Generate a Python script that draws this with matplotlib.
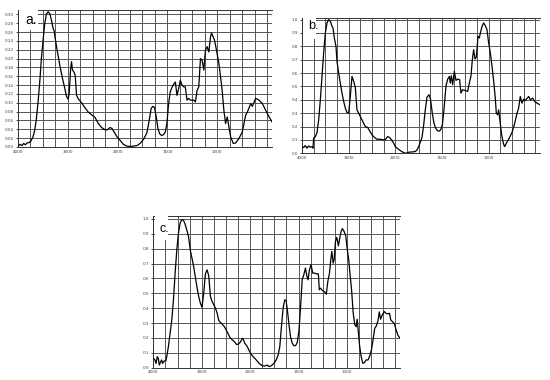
import numpy as np
import matplotlib.pyplot as plt
from matplotlib.patches import Rectangle

# panel a
wn_a = [4000, 3953, 3919, 3886, 3852, 3819, 3778, 3738, 3698, 3664, 3630, 3597, 3563, 3530,
        3496, 3462, 3429, 3395, 3362, 3328, 3294, 3274, 3247, 3214, 3160, 3106, 3059, 3026,
        2992, 2972, 2945, 2925, 2905, 2878, 2851, 2824, 2784, 2723, 2656, 2589, 2522, 2454,
        2387, 2320, 2253, 2206, 2152, 2112, 2071, 2017, 1975, 1942, 1908, 1874, 1841, 1807,
        1774, 1740, 1706, 1683, 1663, 1646, 1629, 1612, 1595, 1578, 1558, 1538, 1521, 1505,
        1488, 1471, 1454, 1437, 1420, 1404, 1387, 1370, 1353, 1336, 1320, 1303, 1286, 1269,
        1235, 1219, 1202, 1185, 1168, 1151, 1134, 1118, 1101, 1084, 1067, 1057, 1040, 1027,
        1007, 983, 950, 933, 916, 899, 882, 865, 839, 815, 782, 748, 714, 697, 664, 647,
        614, 580, 546, 513, 479, 450]
ab_a = [0.002, 0.006, 0.003, 0.008, 0.005, 0.009, 0.010, 0.014, 0.023, 0.038, 0.064, 0.102,
        0.147, 0.200, 0.242, 0.280, 0.301, 0.306, 0.302, 0.287, 0.268, 0.263, 0.242, 0.219,
        0.185, 0.155, 0.132, 0.115, 0.108, 0.121, 0.174, 0.193, 0.174, 0.170, 0.162, 0.117,
        0.108, 0.100, 0.089, 0.079, 0.073, 0.067, 0.053, 0.044, 0.039, 0.039, 0.044, 0.042,
        0.034, 0.024, 0.015, 0.006, 0.002, 0.001, 0.002, 0.003, 0.008, 0.017, 0.032, 0.060,
        0.087, 0.092, 0.089, 0.068, 0.042, 0.030, 0.026, 0.028, 0.034, 0.053, 0.098, 0.125,
        0.135, 0.142, 0.147, 0.117, 0.132, 0.151, 0.140, 0.136, 0.136, 0.106, 0.110, 0.106,
        0.106, 0.102, 0.128, 0.136, 0.200, 0.196, 0.174, 0.219, 0.227, 0.215, 0.249, 0.258,
        0.249, 0.242, 0.219, 0.189, 0.128, 0.083, 0.053, 0.068, 0.045, 0.023, 0.008, 0.009,
        0.019, 0.034, 0.072, 0.079, 0.098, 0.092, 0.110, 0.106, 0.098, 0.083, 0.068, 0.057]

# panel b
wn_b = [4000, 3964, 3929, 3893, 3857, 3822, 3786, 3764, 3750, 3714, 3679, 3643, 3607, 3572,
        3536, 3500, 3464, 3429, 3393, 3357, 3336, 3307, 3272, 3250, 3215, 3179, 3143, 3107,
        3072, 3036, 3000, 2965, 2929, 2893, 2858, 2822, 2786, 2750, 2715, 2679, 2643, 2593,
        2550, 2500, 2451, 2394, 2322, 2251, 2207, 2165, 2122, 2079, 2036, 2000, 1975, 1946,
        1911, 1889, 1857, 1821, 1786, 1768, 1750, 1732, 1714, 1696, 1679, 1661, 1639, 1622,
        1604, 1586, 1568, 1550, 1532, 1514, 1496, 1479, 1457, 1439, 1421, 1411, 1400, 1386,
        1368, 1350, 1332, 1311, 1297, 1279, 1250, 1225, 1207, 1189, 1175, 1161, 1146, 1132,
        1114, 1100, 1089, 1071, 1054, 1036, 1018, 1000, 982, 964, 946, 929, 918, 904, 893,
        879, 861, 843, 829, 811, 786, 750, 721, 696, 679, 661, 643, 625, 607, 571, 554, 529,
        507, 482, 450]
ab_b = [0.050, 0.043, 0.058, 0.038, 0.055, 0.045, 0.050, 0.038, 0.113, 0.125, 0.155, 0.250,
        0.400, 0.575, 0.750, 0.900, 0.975, 1.000, 0.988, 0.950, 0.938, 0.863, 0.800, 0.688,
        0.600, 0.525, 0.450, 0.388, 0.338, 0.305, 0.300, 0.425, 0.575, 0.538, 0.495, 0.325,
        0.300, 0.275, 0.250, 0.225, 0.200, 0.193, 0.168, 0.138, 0.120, 0.105, 0.105, 0.100,
        0.105, 0.125, 0.118, 0.100, 0.075, 0.050, 0.035, 0.020, 0.005, 0.000, 0.008, 0.010,
        0.013, 0.025, 0.050, 0.083, 0.120, 0.213, 0.325, 0.420, 0.438, 0.400, 0.300, 0.225,
        0.188, 0.170, 0.165, 0.175, 0.213, 0.325, 0.505, 0.555, 0.575, 0.525, 0.580, 0.513,
        0.613, 0.545, 0.555, 0.550, 0.450, 0.475, 0.470, 0.463, 0.525, 0.580, 0.700, 0.775,
        0.705, 0.720, 0.875, 0.863, 0.900, 0.950, 0.975, 0.955, 0.925, 0.825, 0.750, 0.650,
        0.538, 0.413, 0.300, 0.288, 0.325, 0.245, 0.138, 0.075, 0.050, 0.075, 0.105, 0.155,
        0.225, 0.300, 0.338, 0.425, 0.375, 0.405, 0.395, 0.425, 0.400, 0.413, 0.388, 0.375,
        0.363]

# panel c
wn_c = [4000, 3965, 3944, 3917, 3896, 3875, 3847, 3826, 3806, 3778, 3743, 3722, 3688, 3653,
        3618, 3584, 3549, 3514, 3480, 3445, 3410, 3375, 3341, 3306, 3271, 3237, 3202, 3167,
        3133, 3098, 3063, 3028, 2994, 2959, 2924, 2890, 2855, 2820, 2786, 2751, 2716, 2681,
        2647, 2598, 2543, 2501, 2459, 2418, 2369, 2321, 2279, 2237, 2196, 2161, 2140, 2112,
        2077, 2042, 2000, 1976, 1942, 1908, 1874, 1847, 1823, 1806, 1782, 1755, 1731, 1711,
        1694, 1677, 1660, 1643, 1629, 1616, 1599, 1582, 1565, 1548, 1531, 1514, 1497, 1480,
        1463, 1446, 1429, 1415, 1402, 1388, 1371, 1354, 1337, 1313, 1296, 1286, 1272, 1255,
        1235, 1214, 1198, 1181, 1167, 1157, 1143, 1133, 1119, 1106, 1089, 1075, 1061, 1048,
        1031, 1013, 997, 983, 970, 953, 936, 919, 905, 895, 884, 871, 854, 837, 820, 803,
        783, 765, 748, 731, 714, 697, 680, 667, 653, 636, 616, 599, 578, 561, 548, 531, 510,
        493, 476, 455]
ab_c = [0.063, 0.052, 0.029, 0.074, 0.063, 0.018, 0.040, 0.052, 0.029, 0.045, 0.045, 0.074,
        0.142, 0.231, 0.321, 0.456, 0.636, 0.793, 0.906, 0.973, 0.996, 0.991, 0.962, 0.924,
        0.879, 0.793, 0.737, 0.681, 0.613, 0.542, 0.479, 0.434, 0.407, 0.501, 0.631, 0.658,
        0.618, 0.479, 0.445, 0.422, 0.400, 0.366, 0.317, 0.299, 0.281, 0.258, 0.231, 0.204,
        0.187, 0.173, 0.155, 0.160, 0.175, 0.198, 0.191, 0.164, 0.151, 0.130, 0.101, 0.079,
        0.056, 0.029, 0.013, 0.011, 0.018, 0.007, 0.013, 0.029, 0.052, 0.085, 0.142, 0.276,
        0.400, 0.456, 0.452, 0.389, 0.288, 0.204, 0.164, 0.148, 0.148, 0.169, 0.243, 0.400,
        0.591, 0.625, 0.670, 0.618, 0.591, 0.658, 0.692, 0.636, 0.636, 0.631, 0.631, 0.524,
        0.535, 0.519, 0.512, 0.494, 0.580, 0.636, 0.730, 0.782, 0.703, 0.726, 0.849, 0.876,
        0.820, 0.872, 0.917, 0.935, 0.917, 0.888, 0.793, 0.730, 0.636, 0.524, 0.366, 0.288,
        0.276, 0.326, 0.243, 0.153, 0.074, 0.029, 0.034, 0.052, 0.052, 0.079, 0.119, 0.187,
        0.265, 0.281, 0.317, 0.375, 0.326, 0.355, 0.378, 0.366, 0.362, 0.366, 0.321, 0.310,
        0.294, 0.254, 0.220, 0.200]

tick_wn = [4000, 3000, 2000, 1500, 1000]
tick_lab = ['4000', '3000', '2000', '1500', '1000']
grid_wn = [3750, 3500, 3250, 3000, 2750, 2500, 2250, 2000, 1875, 1750, 1625, 1500,
           1375, 1250, 1125, 1000, 875, 750, 625, 500]


# wavenumber axis: 1000 cm-1 per division above 2000, 500 below
def fwd(w):
    w = np.asarray(w, float)
    return np.where(w >= 2000, w, 2 * w - 2000)


def inv(p):
    p = np.asarray(p, float)
    return np.where(p >= 2000, p, (p + 2000) / 2)


def panel(rect, wn, ab, ytop, yticks, fmt, label, lab_xy, lab_size, box):
    ax = fig.add_axes(rect)
    ax.set_xscale('function', functions=(fwd, inv))
    ax.plot(wn, ab, color='black', lw=0.9, zorder=3)
    ax.set_xlim(4000, 450)
    ax.set_ylim(0, ytop)
    ax.set_xticks(tick_wn, tick_lab)
    ax.set_xticks(grid_wn, minor=True)
    ax.set_yticks(yticks, [fmt % v for v in yticks])
    ax.tick_params(axis='x', which='both', length=0, labelsize=3, pad=2, labelcolor='#444')
    ax.tick_params(axis='y', length=1.5, width=0.5, labelsize=3, pad=1.5, labelcolor='#444')
    ax.grid(which='both', axis='x', color='#555555', lw=0.7)
    ax.grid(which='major', axis='y', color='#555555', lw=0.7)
    ax.set_axisbelow(True)
    ax.spines['right'].set_visible(False)
    for s in ['left', 'top', 'bottom']:
        ax.spines[s].set_linewidth(0.7)
        ax.spines[s].set_color('#333333')
    ax.add_patch(Rectangle((0.005, box[1]), box[0], 0.3, transform=ax.transAxes,
                           facecolor='white', edgecolor='none', zorder=2.6, clip_on=False))
    ax.text(lab_xy[0], lab_xy[1], label, transform=ax.transAxes, fontsize=lab_size,
            family='Liberation Sans', ha='left', va='center', zorder=4)
    return ax


fig = plt.figure(figsize=(5.5, 3.8), dpi=100)

panel([0.0327, 0.6132, 0.4618, 0.3605], wn_a, ab_a, 0.31,
      np.round(np.arange(0, 0.301, 0.02), 2), '%.2f', 'a.', (0.028, 0.93), 10, (0.075, 0.855))
panel([0.5491, 0.5966, 0.4327, 0.3553], wn_b, ab_b, 1.01,
      np.round(np.arange(0, 1.01, 0.1), 1), '%.1f', 'b.', (0.025, 0.945), 9, (0.052, 0.85))
panel([0.2787, 0.0324, 0.4491, 0.3992], wn_c, ab_c, 1.02,
      np.round(np.arange(0, 1.01, 0.1), 1), '%.1f', 'c.', (0.025, 0.915), 9, (0.055, 0.84))

fig.savefig('out.png', dpi=100)
